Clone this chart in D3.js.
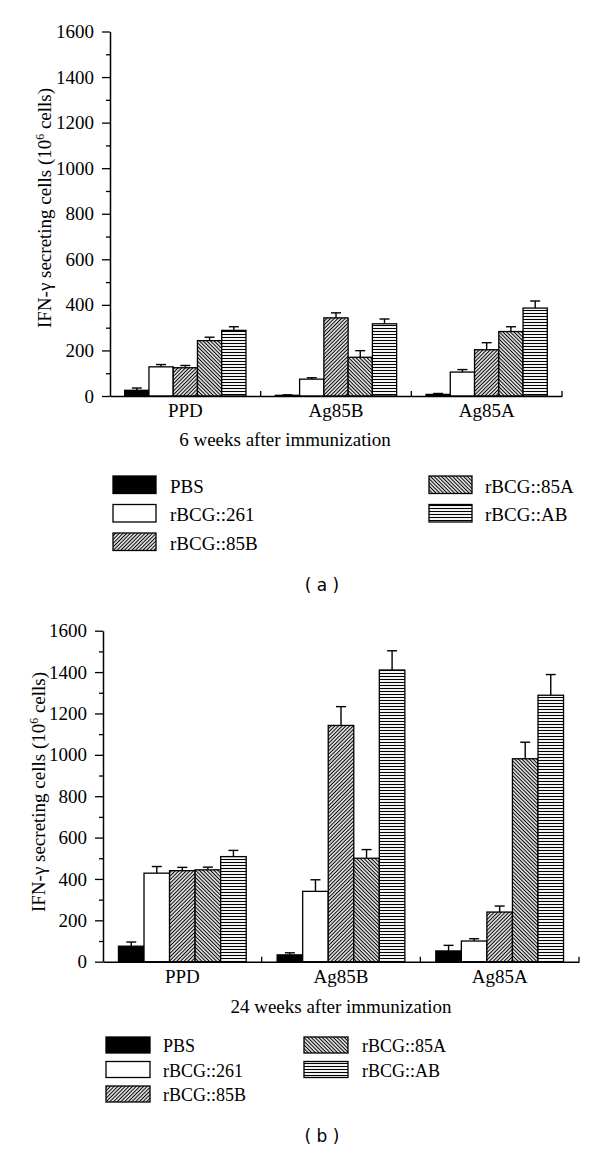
<!DOCTYPE html>
<html>
<head>
<meta charset="utf-8">
<script src="https://cdn.jsdelivr.net/npm/d3@7"></script>
<style>
  html, body { margin: 0; padding: 0; background: #fff; }
  svg { display: block; }
  text { fill: #000; }
</style>
</head>
<body>
<svg id="chart" width="600" height="1153"></svg>
<script>
// ---------- data ----------
const categories = ["PPD", "Ag85B", "Ag85A"];
const groups = ["PBS", "rBCG::261", "rBCG::85B", "rBCG::85A", "rBCG::AB"];
const yMajorTicks = [0, 200, 400, 600, 800, 1000, 1200, 1400, 1600];
const yMinorTicks = [100, 300, 500, 700, 900, 1100, 1300, 1500];

// 6 weeks after immunization (mean, per category PPD / Ag85B / Ag85A)
const w6PBS  = [25, 3, 7];
const w6R261 = [128, 74, 105];
const w6R85B = [124, 343, 203];
const w6R85A = [243, 170, 283];
const w6RAB  = [288, 317, 386];
// 6 weeks error (upper bar length)
const w6PBSErr  = [10, 2, 4];
const w6R261Err = [10, 6, 11];
const w6R85BErr = [10, 22, 31];
const w6R85AErr = [15, 29, 21];
const w6RABErr  = [16, 21, 31];

// 24 weeks after immunization
const w24PBS  = [75, 33, 52];
const w24R261 = [428, 340, 100];
const w24R85B = [440, 1142, 240];
const w24R85A = [444, 500, 981];
const w24RAB  = [508, 1410, 1288];
const w24PBSErr  = [20, 10, 27];
const w24R261Err = [32, 56, 11];
const w24R85BErr = [16, 91, 29];
const w24R85AErr = [13, 42, 80];
const w24RABErr  = [30, 93, 100];

const yTitle = "IFN-γ secreting cells (10";
const yTitleSup = "6";
const yTitleEnd = " cells)";

const SERIF = "'Liberation Serif', 'Times New Roman', serif";

// ---------- patterns ----------
const svg = d3.select("#chart");
const defs = svg.append("defs");
function hatch(id, angle, size, sw) {
  const p = defs.append("pattern").attr("id", id)
    .attr("patternUnits", "userSpaceOnUse")
    .attr("width", size).attr("height", size)
    .attr("patternTransform", `rotate(${angle})`);
  p.append("rect").attr("width", size).attr("height", size).attr("fill", "#fff");
  p.append("line").attr("x1", size / 2).attr("y1", 0).attr("x2", size / 2).attr("y2", size)
    .attr("stroke", "#000").attr("stroke-width", sw);
}
hatch("p85B", 45, 2.6, 1.15);
hatch("p85A", -45, 2.6, 1.15);
hatch("pAB", 90, 3, 1.1);
const fills = ["#000", "#fff", "url(#p85B)", "url(#p85A)", "url(#pAB)"];

// ---------- panel drawing ----------
function drawPanel(cfg) {
  const g = svg.append("g");
  const x = d3.scaleBand().domain(categories).range([cfg.x0, cfg.x1]).padding(0);
  const bw = x.bandwidth();
  const groupW = bw * 0.805;
  const xs = d3.scaleBand().domain(groups).range([(bw - groupW) / 2, (bw + groupW) / 2]).padding(0);
  const y = d3.scaleLinear().domain([0, 1600]).range([cfg.yBottom, cfg.yTop]);

  // bars
  groups.forEach((grp, gi) => {
    const vals = cfg.series[gi], errs = cfg.errors[gi];
    categories.forEach((cat, ci) => {
      const bx = x(cat) + xs(grp);
      const w = xs.bandwidth();
      const v = vals[ci], e = errs[ci];
      const cx = bx + w / 2;
      g.append("line").attr("x1", cx).attr("x2", cx)
        .attr("y1", y(v)).attr("y2", y(v + e))
        .attr("stroke", "#000").attr("stroke-width", 1.4);
      g.append("line").attr("x1", cx - 5).attr("x2", cx + 5)
        .attr("y1", y(v + e)).attr("y2", y(v + e))
        .attr("stroke", "#000").attr("stroke-width", 1.4);
      g.append("rect").attr("x", bx).attr("y", y(v))
        .attr("width", w).attr("height", y(0) - y(v))
        .attr("fill", fills[gi]).attr("stroke", "#000").attr("stroke-width", 1.3);
    });
  });

  // y axis
  const ya = g.append("g").attr("transform", `translate(${cfg.x0},0)`)
    .call(d3.axisLeft(y).tickValues(yMajorTicks).tickSize(8).tickSizeOuter(0).tickPadding(8).tickFormat(d3.format("d")));
  ya.attr("font-family", null).attr("font-size", null);
  ya.select(".domain").attr("stroke-width", 1.5);
  ya.selectAll(".tick line").attr("stroke-width", 1.3);
  ya.selectAll("text").style("font-family", SERIF).style("font-size", cfg.fs + "px");
  const ym = g.append("g").attr("transform", `translate(${cfg.x0},0)`)
    .call(d3.axisLeft(y).tickValues(yMinorTicks).tickSize(4).tickSizeOuter(0).tickFormat(""));
  ym.select(".domain").remove();
  ym.selectAll(".tick line").attr("stroke-width", 1.3);

  // x axis
  const xa = g.append("g").attr("transform", `translate(0,${y(0)})`)
    .call(d3.axisBottom(x).tickSize(0).tickSizeOuter(0).tickPadding(cfg.catPad));
  xa.attr("font-family", null).attr("font-size", null);
  xa.select(".domain").attr("stroke-width", 1.5);
  xa.selectAll("text").style("font-family", SERIF).style("font-size", cfg.fs + "px");
  categories.forEach(cat => {
    const bxx = x(cat) + bw;
    g.append("line").attr("x1", bxx).attr("x2", bxx)
      .attr("y1", y(0)).attr("y2", y(0) - 5)
      .attr("stroke", "#000").attr("stroke-width", 1.3);
  });

  // y title
  const t = g.append("text")
    .attr("transform", `translate(${cfg.yTitleX},${cfg.yTitleY}) rotate(-90)`)
    .attr("text-anchor", "middle")
    .style("font-family", SERIF).style("font-size", cfg.fs + "px");
  t.append("tspan").text(yTitle);
  t.append("tspan").style("font-size", (cfg.fs * 0.62) + "px").attr("dy", -7).text(yTitleSup);
  t.append("tspan").attr("dy", 7).text(yTitleEnd);

  // x title
  g.append("text").attr("x", cfg.xTitleX).attr("y", cfg.xTitleY)
    .attr("text-anchor", "middle")
    .style("font-family", SERIF).style("font-size", cfg.fs + "px").text(cfg.xTitle);

  // legend
  groups.forEach((grp, gi) => {
    const col = gi < 3 ? 0 : 1;
    const row = gi < 3 ? gi : gi - 3;
    const lx = cfg.legX[col], ly = cfg.legY + row * cfg.legDy;
    g.append("rect").attr("x", lx).attr("y", ly).attr("width", cfg.legW).attr("height", cfg.legH)
      .attr("fill", fills[gi]).attr("stroke", "#000").attr("stroke-width", 1.3);
    g.append("text").attr("x", cfg.legTextX[col]).attr("y", ly + cfg.legH - 1)
      .style("font-family", SERIF).style("font-size", cfg.legFs + "px").text(grp);
  });

  // panel label
  g.append("text").attr("x", cfg.labX).attr("y", cfg.labY).attr("text-anchor", "middle")
    .style("font-family", "'DejaVu Sans', sans-serif").style("font-size", "17px")
    .style("white-space", "pre").text(cfg.lab);
}

drawPanel({
  x0: 110, x1: 562, yTop: 31.5, yBottom: 396, fs: 19, catPad: 8,
  series: [w6PBS, w6R261, w6R85B, w6R85A, w6RAB],
  errors: [w6PBSErr, w6R261Err, w6R85BErr, w6R85AErr, w6RABErr],
  yTitleX: 51, yTitleY: 208,
  xTitle: "6 weeks after immunization", xTitleX: 285, xTitleY: 446,
  legX: [113, 429], legTextX: [170, 485], legY: 476, legDy: 28.5, legW: 43, legH: 17.5, legFs: 19,
  lab: "( a )", labX: 322, labY: 591
});

drawPanel({
  x0: 103, x1: 579, yTop: 630.7, yBottom: 961.7, fs: 19, catPad: 8,
  series: [w24PBS, w24R261, w24R85B, w24R85A, w24RAB],
  errors: [w24PBSErr, w24R261Err, w24R85BErr, w24R85AErr, w24RABErr],
  yTitleX: 45, yTitleY: 792,
  xTitle: "24 weeks after immunization", xTitleX: 341, xTitleY: 1013,
  legX: [106, 304], legTextX: [163, 362], legY: 1037, legDy: 24.5, legW: 44, legH: 16, legFs: 18,
  lab: "( b )", labX: 322, labY: 1142
});
</script>
</body>
</html>
